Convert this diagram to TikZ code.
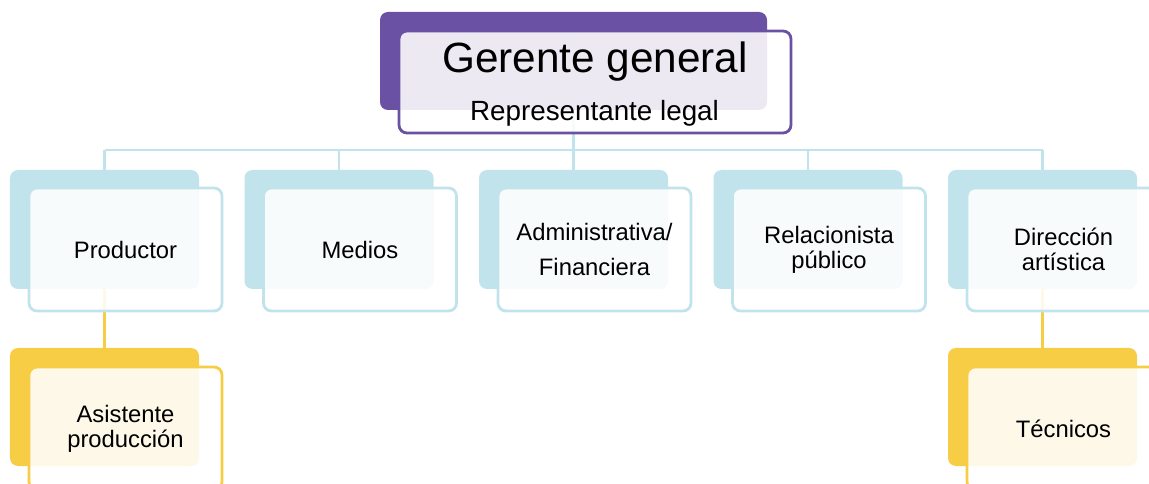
\documentclass[tikz,border=0pt]{standalone}
\usepackage{fontspec}
\setmainfont{Liberation Sans}
\definecolor{purp}{HTML}{6A51A3}
\definecolor{lblue}{HTML}{C1E3EC}
\definecolor{yel}{HTML}{F6CD45}
\pgfdeclarelayer{bg}
\pgfsetlayers{bg,main}
\begin{document}
\begin{tikzpicture}[x=1bp,y=-1bp,
  backbox/.style={rectangle, rounded corners=8bp, inner sep=0pt, draw=none, minimum width=189bp, minimum height=119bp},
  frontbox/.style={rectangle, rounded corners=8bp, inner sep=0pt, line width=2.8bp, fill=white, fill opacity=0.88, text opacity=1, draw opacity=1, minimum width=193bp, minimum height=123bp, align=center, font=\fontsize{23.8bp}{25bp}\selectfont},
  link/.style={line width=2.2bp},
]
\clip (0,0) rectangle (1149,484);
\useasboundingbox (0,0) rectangle (1149,484);
% back boxes
\node[backbox, fill=purp, minimum width=387bp, minimum height=98bp] (gb) at (573.5,61) {};
\node[backbox, fill=lblue] (b1) at (104.5,229.5) {};
\node[backbox, fill=lblue] (b2) at (339,229.5) {};
\node[backbox, fill=lblue] (b3) at (573.5,229.5) {};
\node[backbox, fill=lblue] (b4) at (808,229.5) {};
\node[backbox, fill=lblue] (b5) at (1042.5,229.5) {};
\node[backbox, fill=yel, minimum height=118bp] (y1) at (104.5,407) {};
\node[backbox, fill=yel, minimum height=118bp] (y2) at (1042.5,407) {};
% front boxes
\node[frontbox, draw=purp, minimum width=392bp, minimum height=102bp] (gf) at (595,82) {};
\node[font=\fontsize{42.3bp}{46bp}\selectfont, anchor=base, inner sep=0pt] (gt1) at (595,73) {Gerente general};
\node[font=\fontsize{27.8bp}{30bp}\selectfont, anchor=base, inner sep=0pt] (gt2) at (594.5,121) {Representante legal};
\node[frontbox, draw=lblue] (f1) at (125.5,249.5) {Productor};
\node[frontbox, draw=lblue] (f2) at (360,249.5) {Medios};
\node[frontbox, draw=lblue] (f3) at (594.5,249.5) {Administrativa/\\[10bp]Financiera};
\node[frontbox, draw=lblue] (f4) at (829,249.5) {Relacionista\\público};
\node[frontbox, draw=lblue] (f5) at (1063.5,249.5) {Dirección\\artística};
\node[frontbox, draw=yel] (f6) at (125.5,428.5) {Asistente\\producción};
\node[frontbox, draw=yel] (f7) at (1063.5,428.5) {Técnicos};
% connectors behind the boxes
\coordinate (hl) at (104.5,150);
\coordinate (hr) at (1042.5,150);
\coordinate (hm) at (573.5,150);
\begin{pgfonlayer}{bg}
\draw[link, lblue] (gb.south) -- (hm);
\draw[link, lblue] (hl) -- (hr);
\foreach \b in {b1,b2,b3,b4,b5}
  \draw[link, lblue] (\b.north |- hl) -- (\b.north);
\draw[link, yel] (b1.south) -- (y1.north);
\draw[link, yel] (b5.south) -- (y2.north);
\end{pgfonlayer}
\end{tikzpicture}
\end{document}
